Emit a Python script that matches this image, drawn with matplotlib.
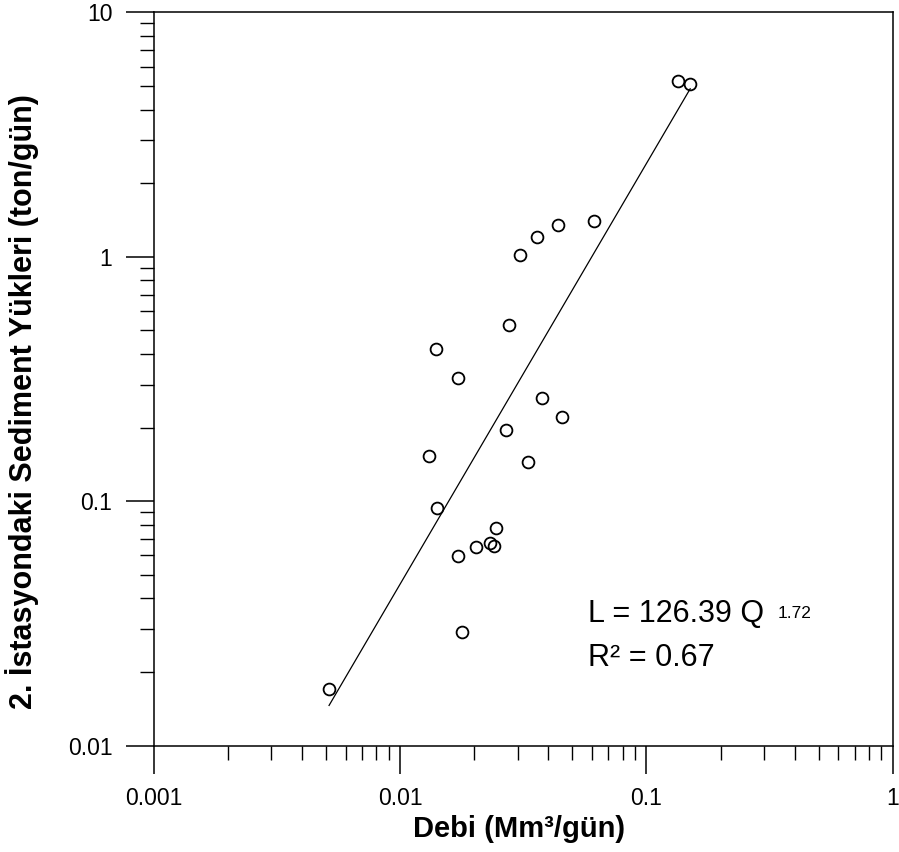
import matplotlib.pyplot as plt
import numpy as np
from matplotlib.ticker import LogLocator, FuncFormatter, NullFormatter

plt.rcParams['font.family'] = ['Liberation Sans', 'DejaVu Sans']

# debi (Mm3/gun) and sediment load (ton/gun) observations
debi = [0.00514, 0.0179, 0.0171, 0.0203, 0.0231, 0.0240, 0.0244, 0.0141,
        0.0131, 0.0330, 0.0268, 0.0456, 0.0378, 0.0172, 0.0140, 0.0277,
        0.0307, 0.0359, 0.0436, 0.0611, 0.1337, 0.1505]
yuk = [0.0171, 0.0293, 0.0595, 0.0650, 0.0675, 0.0658, 0.0780, 0.0942,
       0.153, 0.144, 0.195, 0.220, 0.265, 0.318, 0.420, 0.528,
       1.02, 1.20, 1.35, 1.40, 5.23, 5.08]

# power law fit L = a * Q^b
a = 126.39
b = 1.72
r2 = 0.67

fig = plt.figure(figsize=(8.99, 8.52), dpi=100)
ax = fig.add_axes([0.1713, 0.1248, 0.8217, 0.8608])

q = np.array([min(debi), max(debi)])
ax.plot(q, a * q ** b, color='black', lw=0.9)
ax.plot(debi, yuk, 'o', mfc='none', mec='black', ms=8.5, mew=1.3)

ax.set_xscale('log')
ax.set_yscale('log')
ax.set_xlim(0.001, 1)
ax.set_ylim(0.01, 10)

fmt = FuncFormatter(lambda v, p: '{:g}'.format(v))
for axis in (ax.xaxis, ax.yaxis):
    axis.set_major_locator(LogLocator(base=10))
    axis.set_minor_locator(LogLocator(base=10, subs=np.arange(2, 10)))
    axis.set_major_formatter(fmt)
    axis.set_minor_formatter(NullFormatter())

ax.tick_params(which='major', direction='out', length=20, width=1.1,
               labelsize=16.5, pad=10, top=False, right=False)
ax.tick_params(which='minor', direction='out', length=10, width=1.0,
               top=False, right=False)
for s in ax.spines.values():
    s.set_linewidth(1.1)

ax.set_xlabel('Debi (Mm³/gün)', fontsize=21, fontweight='bold')
ax.set_ylabel('2. İstasyondaki Sediment Yükleri (ton/gün)', fontsize=22,
              fontweight='bold')
ax.xaxis.set_label_coords(0.4948, -0.0945)
ax.yaxis.set_label_coords(-0.155, 0.4686)

eq = ax.text(0.5875, 0.1687, 'L = {:.2f} Q'.format(a),
             transform=ax.transAxes, fontsize=22, va='baseline')
ax.annotate('{:.2f}'.format(b), xy=(1, 0), xycoords=eq, xytext=(10, 6),
            textcoords='offset points', fontsize=12.5, va='bottom')
ax.text(0.5875, 0.1087, 'R² = {:.2f}'.format(r2),
        transform=ax.transAxes, fontsize=22, va='baseline')

fig.savefig('out.png', dpi=100)
